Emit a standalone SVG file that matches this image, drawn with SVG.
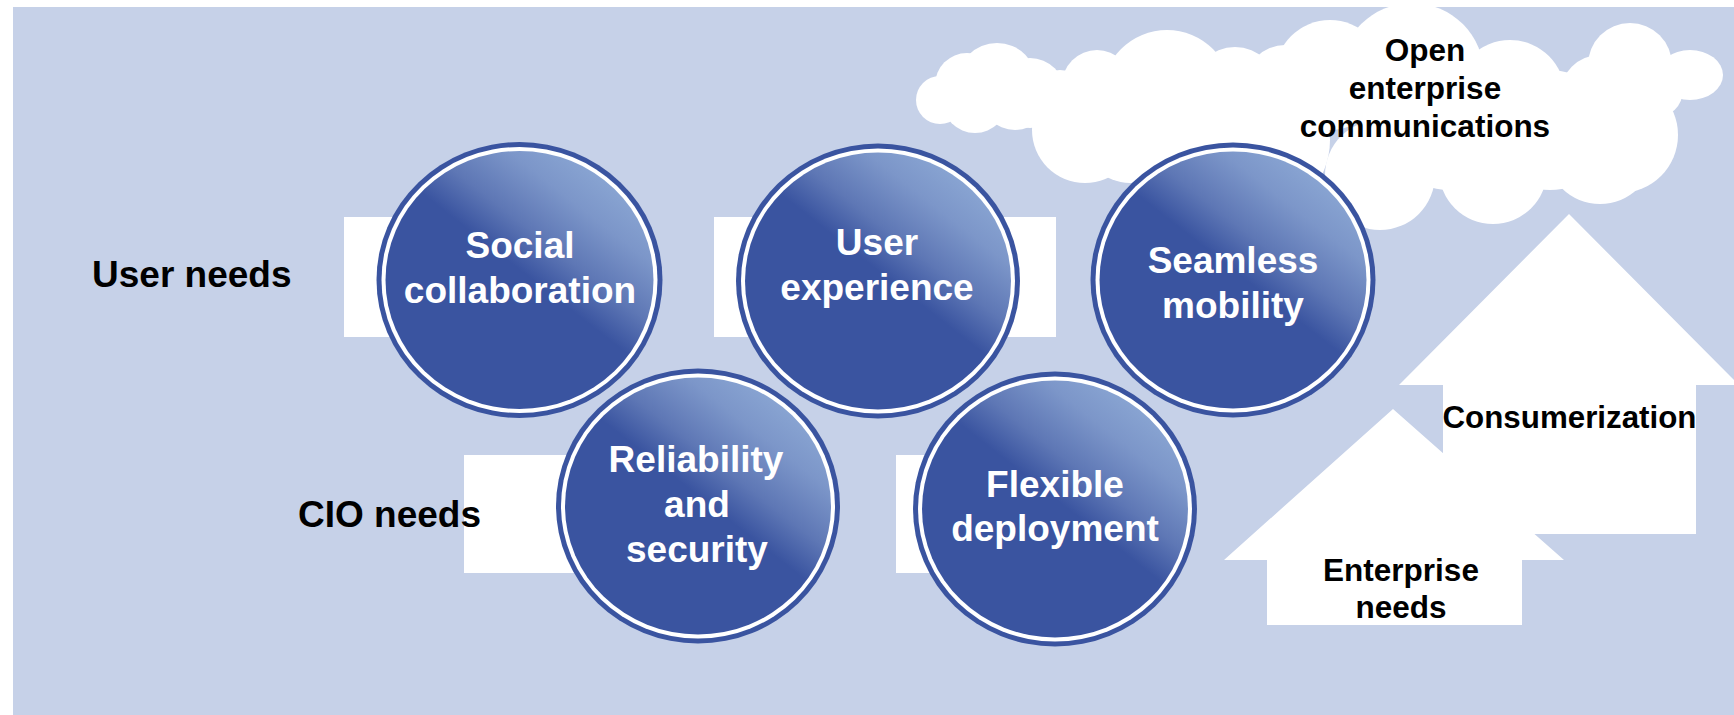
<svg xmlns="http://www.w3.org/2000/svg" width="1734" height="715" viewBox="0 0 1734 715">
  <style>
    .bg { fill: #C6D1E8; }
    .wh { fill: #FFFFFF; }
    .ring { fill: #3A54A0; }
    .lbl { font-family: "Liberation Sans", Arial, sans-serif; font-weight: bold; font-size: 37px; fill: #000000; }
    .ctx { font-family: "Liberation Sans", Arial, sans-serif; font-weight: bold; font-size: 37px; fill: #FFFFFF; text-anchor: middle; }
    .stx { font-family: "Liberation Sans", Arial, sans-serif; font-weight: bold; font-size: 31.5px; fill: #000000; text-anchor: middle; }
  </style>
  <defs>
    <linearGradient id="g" x1="0.2" y1="0.8" x2="0.85" y2="0">
      <stop offset="0" stop-color="#3A54A0"/>
      <stop offset="0.44" stop-color="#3A54A0"/>
      <stop offset="0.58" stop-color="#5E77B5"/>
      <stop offset="0.76" stop-color="#7C96C9"/>
      <stop offset="0.95" stop-color="#8DA9D5"/>
    </linearGradient>
  </defs>

  <rect class="bg" x="13" y="7" width="1721" height="708"/>

  <g id="cloud" class="wh">
    <circle cx="940" cy="100" r="24"/>
    <circle cx="967" cy="85" r="32"/>
    <circle cx="997" cy="83" r="40"/>
    <circle cx="1030" cy="93" r="35"/>
    <circle cx="1060" cy="105" r="35"/>
    <circle cx="1097" cy="85" r="35"/>
    <circle cx="975" cy="100" r="33"/>
    <circle cx="1015" cy="95" r="35"/>
    <circle cx="1085" cy="130" r="53"/>
    <circle cx="1130" cy="135" r="48"/>
    <circle cx="1167" cy="95" r="65"/>
    <circle cx="1200" cy="150" r="60"/>
    <circle cx="1235" cy="90" r="43"/>
    <circle cx="1250" cy="140" r="80"/>
    <circle cx="1285" cy="85" r="40"/>
    <circle cx="1330" cy="75" r="55"/>
    <circle cx="1412" cy="75" r="72"/>
    <circle cx="1450" cy="120" r="70"/>
    <circle cx="1510" cy="95" r="55"/>
    <circle cx="1550" cy="130" r="60"/>
    <circle cx="1630" cy="65" r="42"/>
    <circle cx="1600" cy="95" r="40"/>
    <circle cx="1655" cy="90" r="28"/>
    <ellipse cx="1690" cy="75" rx="33" ry="25"/>
    <circle cx="1620" cy="135" r="58"/>
    <circle cx="1600" cy="150" r="54"/>
    <circle cx="1493" cy="170" r="54"/>
    <circle cx="1380" cy="175" r="55"/>
    <text class="stx" x="1425" y="61">Open</text>
    <text class="stx" x="1425" y="98.5">enterprise</text>
    <text class="stx" x="1425" y="136.5">communications</text>
  </g>

  <g id="arrows">
    <g id="arrow-consumerization">
      <polygon class="wh" points="1569,214 1739,385 1696,385 1696,534 1443,534 1443,385 1399,385"/>
      <text class="stx" x="1569.5" y="428" font-size="32" textLength="254" lengthAdjust="spacingAndGlyphs">Consumerization</text>
    </g>
    <g id="arrow-enterprise">
      <polygon class="wh" points="1393,409 1564,560 1522,560 1522,625 1267,625 1267,560 1224,560"/>
      <text class="stx" x="1401" y="581">Enterprise</text>
      <text class="stx" x="1401" y="618">needs</text>
    </g>
  </g>

  <g id="label-user-needs">
    <text class="lbl" x="92" y="287">User needs</text>
  </g>

  <g id="social-collaboration">
    <rect class="wh" x="344" y="217" width="220" height="120"/>
    <ellipse class="ring" cx="519.5" cy="280" rx="143" ry="138"/>
    <ellipse class="wh" cx="519.5" cy="280" rx="138" ry="133"/>
    <ellipse fill="url(#g)" cx="519.5" cy="280" rx="134" ry="129"/>
    <text class="ctx" x="520" y="258">Social</text>
    <text class="ctx" x="520" y="303">collaboration</text>
  </g>

  <g id="user-experience">
    <rect class="wh" x="714" y="217" width="342" height="120"/>
    <ellipse class="ring" cx="878" cy="281" rx="142" ry="137.5"/>
    <ellipse class="wh" cx="878" cy="281" rx="137" ry="132.5"/>
    <ellipse fill="url(#g)" cx="878" cy="281" rx="133" ry="128.5"/>
    <text class="ctx" x="877" y="255">User</text>
    <text class="ctx" x="877" y="300">experience</text>
  </g>

  <g id="seamless-mobility">
    <ellipse class="ring" cx="1233" cy="280" rx="142.5" ry="137.5"/>
    <ellipse class="wh" cx="1233" cy="280" rx="137.5" ry="132.5"/>
    <ellipse fill="url(#g)" cx="1233" cy="280" rx="133.5" ry="128.5"/>
    <text class="ctx" x="1233" y="273">Seamless</text>
    <text class="ctx" x="1233" y="318">mobility</text>
  </g>

  <g id="reliability-security">
    <rect class="wh" x="464" y="455" width="200" height="118"/>
    <ellipse class="ring" cx="698" cy="506" rx="142" ry="137.5"/>
    <ellipse class="wh" cx="698" cy="506" rx="137" ry="132.5"/>
    <ellipse fill="url(#g)" cx="698" cy="506" rx="133" ry="128.5"/>
    <text class="ctx" x="696" y="472">Reliability</text>
    <text class="ctx" x="697" y="517">and</text>
    <text class="ctx" x="697" y="562">security</text>
  </g>

  <g id="label-cio-needs">
    <text class="lbl" x="298" y="527">CIO needs</text>
  </g>

  <g id="flexible-deployment">
    <rect class="wh" x="896" y="455" width="200" height="118"/>
    <ellipse class="ring" cx="1055" cy="509" rx="142" ry="137.5"/>
    <ellipse class="wh" cx="1055" cy="509" rx="137" ry="132.5"/>
    <ellipse fill="url(#g)" cx="1055" cy="509" rx="133" ry="128.5"/>
    <text class="ctx" x="1055" y="497">Flexible</text>
    <text class="ctx" x="1055" y="541">deployment</text>
  </g>
</svg>
